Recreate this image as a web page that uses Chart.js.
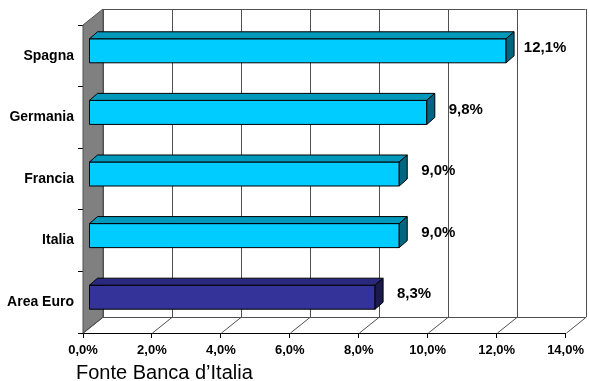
<!DOCTYPE html>
<html>
<head>
<meta charset="utf-8">
<script src="https://cdn.jsdelivr.net/npm/chart.js@4.4.1/dist/chart.umd.min.js"></script>
<style>
    html, body { margin: 0; padding: 0; background: #fff; }
    #wrap { position: relative; width: 589px; height: 381px; }
</style>
</head>
<body>
<div id="wrap"><canvas id="grafico" width="589" height="381"></canvas></div>
<script>
// Dati
const paesi = ['Spagna', 'Germania', 'Francia', 'Italia', 'Area Euro'];
const valori = [12.1, 9.8, 9.0, 9.0, 8.3];
const tickValori = [0, 2, 4, 6, 8, 10, 12, 14];
const fonte = 'Fonte Banca d\u2019Italia';

const FONT = "Arial, 'Liberation Sans', sans-serif";

// colori: fronte, sopra, lato
const coloriFronte = ['#00CCFF', '#00CCFF', '#00CCFF', '#00CCFF', '#333399'];
const coloriSopra = ['#0099BB', '#0099BB', '#0099BB', '#0099BB', '#29297F'];
const coloriLato = ['#006680', '#006680', '#006680', '#006680', '#1A1A4D'];

function formatta(v) {
    return v.toFixed(1).replace('.', ',') + '%';
}

// profondità della parete e delle barre
const PARETE = { dx: 20, dy: -16 };
const BARRA_FRONTE = { dx: 6, dy: -5 };
const BARRA_PROF = { dx: 8, dy: -7 };

const pareti3D = {
    id: 'pareti3D',
    beforeDatasetsDraw(chart) {
        const ctx = chart.ctx;
        const a = chart.chartArea;
        const x = chart.scales.x;
        ctx.save();
        // parete di fondo
        ctx.fillStyle = '#FFFFFF';
        ctx.fillRect(a.left + PARETE.dx, a.top + PARETE.dy, a.right - a.left, a.bottom - a.top);
        // parete sinistra grigia
        ctx.fillStyle = '#808080';
        ctx.beginPath();
        ctx.moveTo(a.left, a.top);
        ctx.lineTo(a.left + PARETE.dx, a.top + PARETE.dy);
        ctx.lineTo(a.left + PARETE.dx, a.bottom + PARETE.dy);
        ctx.lineTo(a.left, a.bottom);
        ctx.closePath();
        ctx.fill();
        ctx.strokeStyle = '#505050';
        ctx.lineWidth = 1;
        ctx.stroke();

        // griglia sulla parete di fondo e sul pavimento
        ctx.strokeStyle = '#505050';
        tickValori.forEach(v => {
            const px = Math.round(x.getPixelForValue(v)) + 0.5;
            ctx.beginPath();
            ctx.moveTo(px + PARETE.dx, a.top + PARETE.dy);
            ctx.lineTo(px + PARETE.dx, a.bottom + PARETE.dy);
            ctx.stroke();
            ctx.beginPath();
            ctx.moveTo(px, a.bottom);
            ctx.lineTo(px + PARETE.dx, a.bottom + PARETE.dy);
            ctx.stroke();
        });
        // bordo superiore e fondo
        ctx.beginPath();
        ctx.moveTo(a.left + PARETE.dx, Math.round(a.top + PARETE.dy) + 0.5);
        ctx.lineTo(a.right + PARETE.dx, Math.round(a.top + PARETE.dy) + 0.5);
        ctx.moveTo(a.left + PARETE.dx, Math.round(a.bottom + PARETE.dy) + 0.5);
        ctx.lineTo(a.right + PARETE.dx, Math.round(a.bottom + PARETE.dy) + 0.5);
        ctx.stroke();
        ctx.restore();
    },
    beforeDatasetDraw(chart, args) {
        // disegno le barre in 3D a mano
        const ctx = chart.ctx;
        const meta = args.meta;
        ctx.save();
        ctx.lineWidth = 1;
        ctx.strokeStyle = '#000000';
        meta.data.forEach((el, i) => {
            const p = el.getProps(['x', 'y', 'base', 'height'], true);
            const x0 = p.base + BARRA_FRONTE.dx;
            const x1 = p.x + BARRA_FRONTE.dx;
            const yT = p.y - p.height / 2 + BARRA_FRONTE.dy;
            const yB = p.y + p.height / 2 + BARRA_FRONTE.dy;
            const dx = BARRA_PROF.dx, dy = BARRA_PROF.dy;

            // fronte
            ctx.fillStyle = coloriFronte[i];
            ctx.beginPath();
            ctx.rect(x0, yT, x1 - x0, yB - yT);
            ctx.fill();
            ctx.stroke();
            // sopra
            ctx.fillStyle = coloriSopra[i];
            ctx.beginPath();
            ctx.moveTo(x0, yT);
            ctx.lineTo(x0 + dx, yT + dy);
            ctx.lineTo(x1 + dx, yT + dy);
            ctx.lineTo(x1, yT);
            ctx.closePath();
            ctx.fill();
            ctx.stroke();
            // lato
            ctx.fillStyle = coloriLato[i];
            ctx.beginPath();
            ctx.moveTo(x1, yT);
            ctx.lineTo(x1 + dx, yT + dy);
            ctx.lineTo(x1 + dx, yB + dy);
            ctx.lineTo(x1, yB);
            ctx.closePath();
            ctx.fill();
            ctx.stroke();
        });
        ctx.restore();
        return false;
    },
    afterDatasetsDraw(chart) {
        const ctx = chart.ctx;
        const meta = chart.getDatasetMeta(0);
        ctx.save();
        // etichette dei valori
        ctx.fillStyle = '#000000';
        ctx.font = 'bold 15px ' + FONT;
        ctx.textAlign = 'center';
        ctx.textBaseline = 'middle';
        meta.data.forEach((el, i) => {
            ctx.fillText(formatta(valori[i]), el.x + 45, el.y - 8);
        });
        // fonte
        ctx.font = '20px ' + FONT;
        ctx.textAlign = 'left';
        ctx.textBaseline = 'alphabetic';
        ctx.fillText(fonte, 76, 379);
        ctx.restore();
    }
};

const ctx = document.getElementById('grafico').getContext('2d');
window.graficoPaesi = new Chart(ctx, {
    type: 'bar',
    data: {
        labels: paesi,
        datasets: [{
            data: valori,
            backgroundColor: coloriFronte,
            categoryPercentage: 1.0,
            barPercentage: 0.39
        }]
    },
    options: {
        indexAxis: 'y',
        responsive: false,
        animation: false,
        layout: {
            padding: { top: 25, right: 22, left: 0, bottom: 0 }
        },
        plugins: {
            legend: { display: false },
            tooltip: { enabled: false }
        },
        scales: {
            x: {
                min: 0,
                max: 14,
                afterBuildTicks(scale) {
                    scale.ticks = tickValori.map(v => ({ value: v }));
                },
                afterFit(scale) {
                    scale.height = 48;
                },
                border: { display: true, color: '#000000', width: 1 },
                grid: {
                    drawOnChartArea: false,
                    drawTicks: true,
                    tickLength: 5,
                    color: '#000000'
                },
                ticks: {
                    padding: 5,
                    color: '#000000',
                    font: { family: FONT, size: 13, weight: 'bold' },
                    callback: v => formatta(v)
                }
            },
            y: {
                afterFit(scale) {
                    scale.width = 83;
                },
                border: { display: true, color: '#000000', width: 1 },
                grid: {
                    offset: true,
                    drawOnChartArea: false,
                    drawTicks: true,
                    tickLength: 5,
                    color: '#000000'
                },
                ticks: {
                    padding: 4,
                    color: '#000000',
                    font: { family: FONT, size: 14, weight: 'bold' }
                }
            }
        }
    },
    plugins: [pareti3D]
});
</script>
</body>
</html>
